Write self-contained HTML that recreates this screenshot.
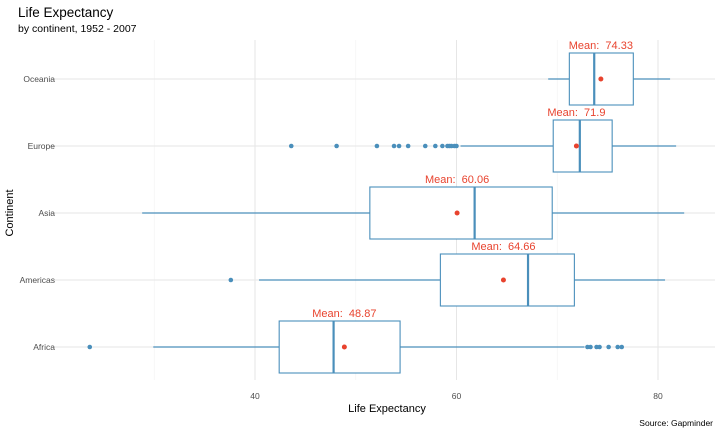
<!DOCTYPE html>
<html><head><meta charset="utf-8"><style>
body{margin:0;background:#fff}
svg{font-family:"Liberation Sans",sans-serif}
</style></head><body>
<svg id="chart" width="720" height="432" xmlns="http://www.w3.org/2000/svg">
<text x="18" y="17" font-size="13.5" fill="#000">Life Expectancy</text>
<text x="18" y="32" font-size="10.5" fill="#000">by continent, 1952 - 2007</text>
<g id="grid"></g><g id="marks"></g><g id="axes"></g>
<text x="387" y="412" font-size="11" text-anchor="middle">Life Expectancy</text>
<text transform="translate(13,213) rotate(-90)" font-size="11" text-anchor="middle">Continent</text>
<text x="713" y="426" font-size="8.5" text-anchor="end">Source: Gapminder</text>
</svg>
<script>
const categories=["Oceania","Europe","Asia","Americas","Africa"];
const q1=[71.2,69.6,51.4,58.4,42.4];
const medians=[73.67,72.24,61.8,67.1,47.8];
const q3=[77.55,75.45,69.5,71.7,54.4];
const whiskLo=[69.1,60.4,28.8,40.4,29.9];
const whiskHi=[81.2,81.8,82.6,80.7,72.7];
const means=[74.33,71.9,60.06,64.66,48.87];
const outliers=[[],[43.6,48.1,52.1,53.8,54.3,55.2,56.9,57.9,58.6,59.1,59.3,59.5,59.8,60.0],[],[37.6],[23.6,73.0,73.3,73.9,74.2,75.1,76.0,76.4]];
const majorTicks=[40,60,80];
const minorTicks=[30,50,70];
const NS="http://www.w3.org/2000/svg";
const xS=v=>255+(v-40)*10.075;
const yS=i=>79+i*67;
const BLUE="#4a8fbb",RED="#e8432e";
function mk(p,t,a){const e=document.createElementNS(NS,t);for(const k in a)e.setAttribute(k,a[k]);p.appendChild(e);return e;}
const grid=document.getElementById('grid'),marks=document.getElementById('marks'),axes=document.getElementById('axes');
minorTicks.forEach(v=>{const l=mk(grid,'line',{x1:xS(v),x2:xS(v),y1:40,y2:380,stroke:'#f2f2f2','stroke-width':0.6});

});
majorTicks.forEach(v=>{const l=mk(grid,'line',{x1:xS(v),x2:xS(v),y1:40,y2:380,stroke:'#e6e6e6','stroke-width':1});


const t=mk(axes,'text',{x:xS(v),y:399,'font-size':8.5,'text-anchor':'middle',fill:'#4d4d4d'});t.textContent=v;

});
categories.forEach((c,i)=>{const y=yS(i);
const g=mk(grid,'line',{x1:50,x2:715,y1:y,y2:y,stroke:'#e6e6e6','stroke-width':1});


const t=mk(axes,'text',{x:55,y:y+3,'font-size':8.5,'text-anchor':'end',fill:'#4d4d4d'});t.textContent=c;


const grp=mk(marks,'g',{});


mk(grp,'line',{x1:xS(whiskLo[i]),x2:xS(q1[i]),y1:y,y2:y,stroke:BLUE,'stroke-width':1.2});
mk(grp,'line',{x1:xS(q3[i]),x2:xS(whiskHi[i]),y1:y,y2:y,stroke:BLUE,'stroke-width':1.2});
mk(grp,'rect',{x:xS(q1[i]),y:y-26,width:xS(q3[i])-xS(q1[i]),height:52,fill:'#fff',stroke:BLUE,'stroke-width':1.1});
mk(grp,'line',{x1:xS(medians[i]),x2:xS(medians[i]),y1:y-26,y2:y+26,stroke:BLUE,'stroke-width':2.2});
outliers[i].forEach(o=>{const p=mk(grp,'circle',{cx:xS(o),cy:y,r:2.3,fill:BLUE});

});
const m=mk(marks,'circle',{cx:xS(means[i]),cy:y,r:2.5,fill:RED});


const ml=mk(marks,'text',{x:xS(means[i]),y:y-30,'font-size':11,'text-anchor':'middle',fill:RED});
ml.textContent='Mean:\u00a0 '+means[i];


});
</script>
</body></html>
